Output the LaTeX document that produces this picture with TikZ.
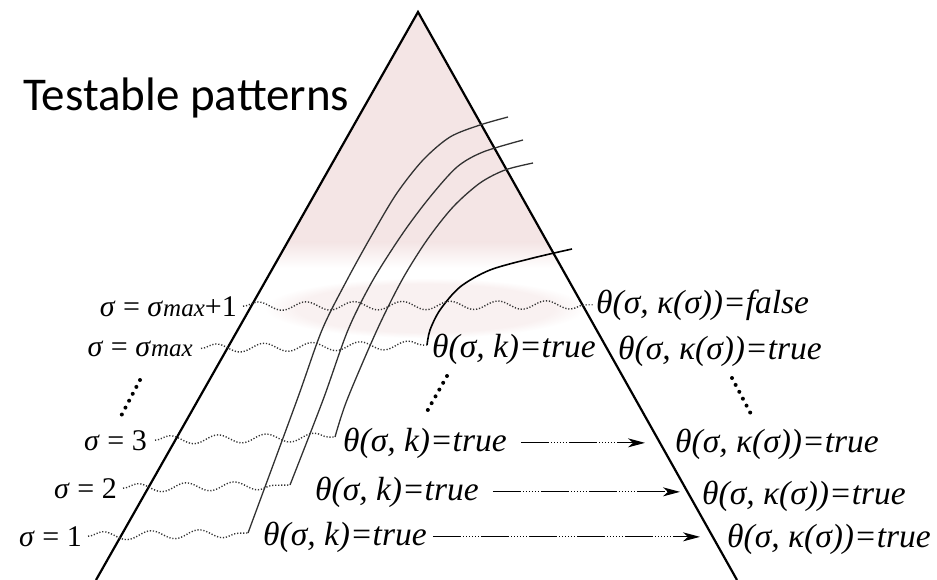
\documentclass[tikz,border=0pt]{standalone}
\usepackage{fontspec}
\setmainfont{Liberation Serif}
\newfontfamily\calib{Carlito}
\usetikzlibrary{decorations.pathmorphing,arrows.meta,fadings,calc}
\definecolor{pinkc}{RGB}{244,229,229}
\definecolor{curvec}{RGB}{50,50,50}
\begin{document}
\begin{tikzpicture}[x=1pt,y=-1pt,
  tri/.style={line width=2.2pt,black},
  crv/.style={line width=1.3pt,curvec},
  wav/.style={decorate,decoration={snake,segment length=48pt,amplitude=4.2pt},
              line width=1.4pt,dash pattern=on 1.2pt off 1.8pt,black!80},
  lab/.style={font=\fontsize{33.5}{33.5}\selectfont\itshape,inner sep=0pt,anchor=base west},
  lft/.style={font=\fontsize{30}{30}\selectfont,inner sep=0pt,anchor=base east},
  vdots/.style={line width=4pt,dash pattern=on 0pt off 7.8pt,line cap=round},
  arr/.style={line width=1.1pt,
     dash pattern=on 28pt off 2pt on 1pt off 2pt on 1pt off 2pt on 1pt off 2pt on 1pt off 2pt on 1pt off 2pt on 1pt off 2pt,
     -{Stealth[length=17pt,width=9pt,inset=5pt]}}]
\useasboundingbox (0,0) rectangle (937,580);
% pink shading
\begin{scope}
  \clip (418,12) -- (271.7,270) -- (562.7,270) -- cycle;
  \fill[pinkc] (0,0) rectangle (937,242);
  \shade[top color=pinkc,bottom color=white] (0,242) rectangle (937,268);
\end{scope}
\fill[pinkc!55,path fading=circle with fuzzy edge 20 percent] (265,278) rectangle (585,338);
% triangle
\coordinate (apex) at (418,12);
\coordinate (bl) at (96,580);
\coordinate (br) at (737,580);
\draw[tri] (bl) -- (apex) -- (br);
% curve bottoms
\coordinate (b1) at (248,533);
\coordinate (b2) at (290,485);
\coordinate (b3) at (335,437);
\coordinate (b4) at (427,345);
\draw[crv] plot[smooth] coordinates {(b1) (297,400) (322,330) (347,280) (373,233) (397,193) (423,160) (450,137) (480,125) (508,117)};
\draw[crv] plot[smooth] coordinates {(b2) (323,400) (348,330) (373,280) (403,233) (430,197) (457,167) (483,152) (523,140)};
\draw[crv] plot[smooth] coordinates {(b3) (347,400) (377,330) (402,280) (427,240) (453,207) (480,183) (505,170) (533,163)};
\draw[crv,black,line width=1.6pt] plot[smooth] coordinates {(b4) (430,330) (440,310) (460,287) (490,270) (533,258) (572,249)};
% title
\node[font=\calib\fontsize{47}{47}\selectfont,inner sep=0pt,anchor=base west] (title) at (23,111) {Testable patterns};
% left labels
\node[lft] (lmx1) at (237,316) {\textit{σ} = \textit{σ}{\fontsize{25}{25}\selectfont\textit{max}}+1};
\node[lft] (lmx) at (193,356) {\textit{σ} = \textit{σ}{\fontsize{25}{25}\selectfont\textit{max}}};
\node[lft] (l3) at (147,450) {\textit{σ} = 3};
\node[lft] (l2) at (117,498) {\textit{σ} = 2};
\node[lft] (l1) at (82,546) {\textit{σ} = 1};
% middle labels
\node[lab] (mmx) at (432,357) {θ(σ, k)=true};
\node[lab] (m3) at (343,451) {θ(σ, k)=true};
\node[lab] (m2) at (315,500) {θ(σ, k)=true};
\node[lab] (m1) at (263,545) {θ(σ, k)=true};
% right labels
\node[lab] (rf) at (596,313) {θ(σ, κ(σ))=false};
\node[lab] (rmx) at (618,359) {θ(σ, κ(σ))=true};
\node[lab] (r3) at (675,452) {θ(σ, κ(σ))=true};
\node[lab] (r2) at (702,504) {θ(σ, κ(σ))=true};
\node[lab] (r1) at (727,547) {θ(σ, κ(σ))=true};
% wavy level lines
\draw[wav] ([xshift=6pt]lmx1.east) -- ([xshift=-3pt]rf.west);
\draw[wav] ([xshift=8pt]lmx.east) -- (b4);
\draw[wav] ([xshift=8pt]l3.east) -- (b3);
\draw[wav] ([xshift=6pt]l2.east) -- (b2);
\draw[wav] ([xshift=6pt]l1.east) -- (b1);
% arrows
\draw[arr] ([xshift=14pt]m3.east) -- ($(m3.east -| r3.west)+(-30,0)$);
\draw[arr] ([xshift=14pt]m2.east) -- ($(m2.east -| r2.west)+(-22,0)$);
\draw[arr] ([xshift=6pt]m1.east) -- ($(m1.east -| r1.west)+(-27,0)$);
% dots
\coordinate (d1a) at (140,380); \coordinate (d1b) at (120,418);
\coordinate (d2a) at (447,376); \coordinate (d2b) at (425,415);
\coordinate (d3a) at (732,378); \coordinate (d3b) at (752,416);
\draw[vdots] (d1a) -- (d1b);
\draw[vdots] (d2a) -- (d2b);
\draw[vdots] (d3a) -- (d3b);
\end{tikzpicture}
\end{document}
